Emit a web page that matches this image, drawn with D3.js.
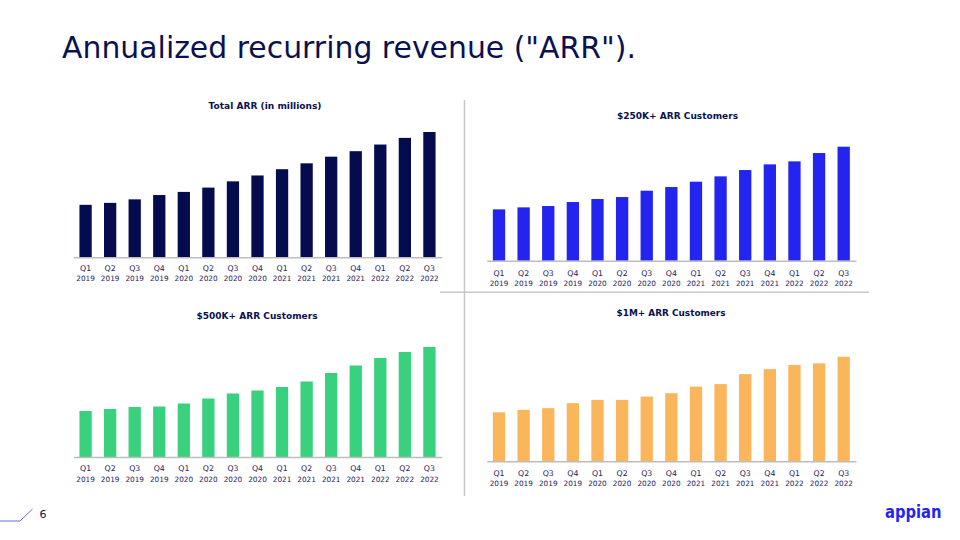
<!DOCTYPE html>
<html>
<head>
<meta charset="utf-8">
<script src="https://cdn.jsdelivr.net/npm/d3@7"></script>
<style>
  html, body { margin: 0; padding: 0; background: #ffffff; }
  svg { display: block; }
</style>
</head>
<body>
<svg id="chart" width="960" height="540"></svg>
<script>
// ---- data ----
const quarters = ["Q1","Q2","Q3","Q4","Q1","Q2","Q3","Q4","Q1","Q2","Q3","Q4","Q1","Q2","Q3"];
const years = ["2019","2019","2019","2019","2020","2020","2020","2020","2021","2021","2021","2021","2022","2022","2022"];
const totalArr = [134, 139, 148, 159, 167, 178, 194, 209, 225, 240, 257, 271, 288, 305, 320];
const customers250k = [154, 160, 164, 176, 185, 191, 210, 221, 237, 253, 272, 289, 298, 323, 342];
const customers500k = [92, 96, 100, 101, 107, 117, 127, 133, 140, 151, 168, 183, 198, 210, 220];
const customers1m = [59, 62, 64, 70, 74, 74, 78, 82, 90, 93, 105, 111, 116, 118, 126];
const panelTitles = ["Total ARR (in millions)", "$250K+ ARR Customers", "$500K+ ARR Customers", "$1M+ ARR Customers"];
const pageTitle = "Annualized recurring revenue (\"ARR\").";

// ---- layout ----
const svg = d3.select("#chart");
const navy = "#0b1150";
const labelColor = "#1f2060";
const font = "'DejaVu Sans', Verdana, sans-serif";

const panels = [
  {values: totalArr,       color: "#050c4e", x0: 73.3,  x1: 441.7, base: 257.3, h: 125.3, tx: 265,   ty: 106,   tw: 113, l1: 271,   l2: 281.3},
  {values: customers250k,  color: "#2424f0", x0: 486.7, x1: 856,   base: 260.7, h: 114,   tx: 677.5, ty: 116,   tw: 121, l1: 275.5, l2: 285.5},
  {values: customers500k,  color: "#39d07e", x0: 73.3,  x1: 441.7, base: 457,   h: 110,   tx: 257,   ty: 315.5, tw: 121, l1: 471,   l2: 482},
  {values: customers1m,    color: "#fbb65b", x0: 486.7, x1: 856,   base: 461.3, h: 104.6, tx: 671,   ty: 313,   tw: 109, l1: 476,   l2: 486}
];

// page title
svg.append("text")
  .attr("x", 62).attr("y", 57.5)
  .attr("font-family", font)
  .attr("font-size", 30.5)
  .attr("fill", navy)
  .attr("textLength", 574)
  .attr("lengthAdjust", "spacingAndGlyphs")
  .text(pageTitle);

// separators
svg.append("line").attr("x1", 464.5).attr("x2", 464.5).attr("y1", 100).attr("y2", 496)
  .attr("stroke", "#c8c8c8").attr("stroke-width", 1.5);
svg.append("line").attr("x1", 440).attr("x2", 869).attr("y1", 292.3).attr("y2", 292.3)
  .attr("stroke", "#c8c8c8").attr("stroke-width", 1.5);

const idx = d3.range(quarters.length);

panels.forEach((p, i) => {
  const g = svg.append("g");
  const x = d3.scaleBand().domain(idx).range([p.x0, p.x1]).paddingInner(0.5).paddingOuter(0.25);
  const y = d3.scaleLinear().domain([0, d3.max(p.values)]).range([p.base, p.base - p.h]);

  g.selectAll("rect").data(p.values).join("rect")
    .attr("x", (d, j) => x(j))
    .attr("width", x.bandwidth())
    .attr("y", d => y(d))
    .attr("height", d => y(0) - y(d))
    .attr("fill", p.color);

  // baseline axis
  const axis = d3.axisBottom(x).tickSize(0).tickFormat("");
  const ax = g.append("g").attr("transform", `translate(0,${p.base})`).call(axis);
  ax.select(".domain").attr("stroke", "#bdbdbd").attr("stroke-width", 1.5);

  // two-line tick labels
  g.selectAll("text.tick1").data(idx).join("text")
    .attr("class", "tick1")
    .attr("x", j => x(j) + x.bandwidth() / 2)
    .attr("y", p.l1)
    .attr("text-anchor", "middle")
    .attr("font-family", font)
    .attr("font-size", 7.8)
    .attr("fill", labelColor)
    .text(j => quarters[j]);
  g.selectAll("text.tick2").data(idx).join("text")
    .attr("class", "tick2")
    .attr("x", j => x(j) + x.bandwidth() / 2)
    .attr("y", p.l2)
    .attr("text-anchor", "middle")
    .attr("font-family", font)
    .attr("font-size", 7.3)
    .attr("fill", labelColor)
    .text(j => years[j]);

  // panel title
  g.append("text")
    .attr("x", p.tx).attr("y", p.ty + 3.3)
    .attr("text-anchor", "middle")
    .attr("font-family", font)
    .attr("font-weight", "bold")
    .attr("font-size", 9)
    .attr("fill", navy)
    .attr("textLength", p.tw)
    .attr("lengthAdjust", "spacingAndGlyphs")
    .text(panelTitles[i]);
});

// footer: page marker
svg.append("polyline")
  .attr("points", "0,521 20,521 32.5,509")
  .attr("fill", "none").attr("stroke", "#6b6be6").attr("stroke-width", 1);
svg.append("text")
  .attr("x", 39.5).attr("y", 518)
  .attr("font-family", font).attr("font-size", 11)
  .attr("fill", navy).text("6");

// logo (horizontally condensed via transform)
svg.append("g")
  .attr("transform", "translate(885,518) scale(0.82,1)")
  .append("text")
  .attr("x", 0).attr("y", 0)
  .attr("font-family", font).attr("font-weight", "bold").attr("font-size", 18)
  .attr("fill", "#2424f0")
  .text("appian");
</script>
</body>
</html>
